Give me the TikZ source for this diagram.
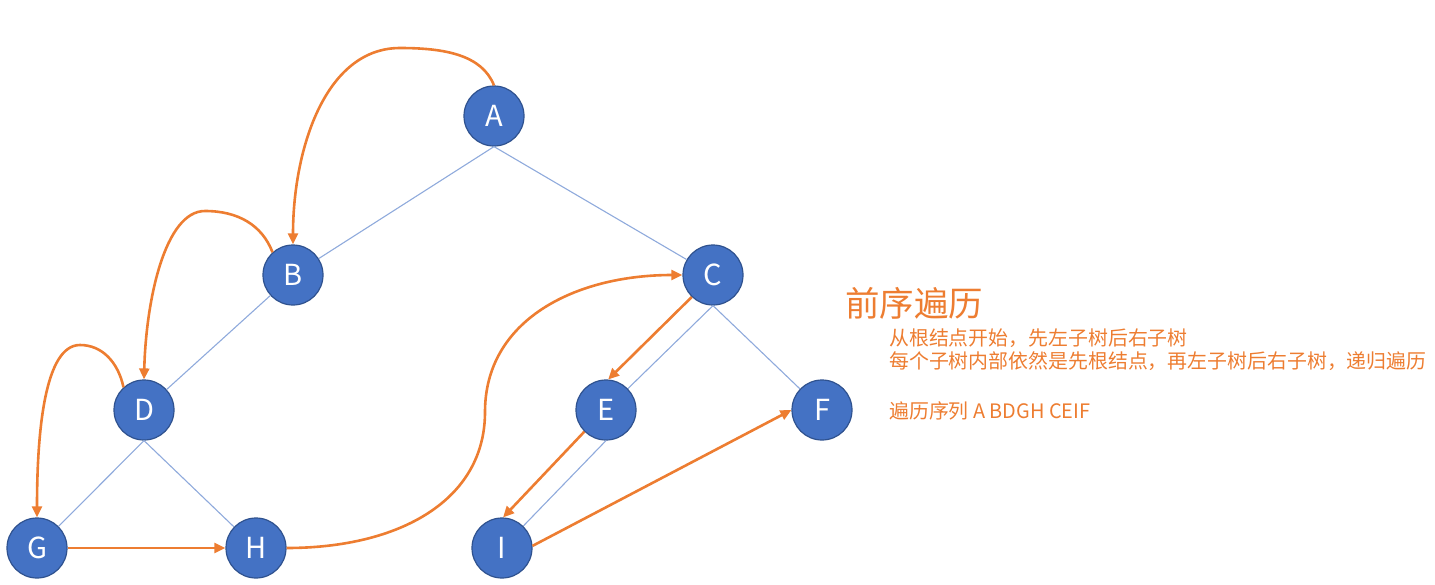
\documentclass[tikz,border=0pt]{standalone}
\usepackage{fontspec}
\setmainfont{Noto Sans CJK SC}
\usetikzlibrary{arrows.meta}
\definecolor{nodeblue}{HTML}{4472C4}
\definecolor{nodeedge}{HTML}{2F528F}
\definecolor{treeline}{HTML}{8FAADC}
\definecolor{trav}{HTML}{ED7D31}
\tikzset{
  tnode/.style={circle, fill=nodeblue, draw=nodeedge, line width=1.2pt, minimum size=60pt, inner sep=0pt, text=white, font=\fontsize{29}{29}\selectfont},
  tedge/.style={draw=treeline, line width=1.1pt},
  tarrow/.style={draw=trav, line width=2.6pt, -{Triangle[length=11pt,width=10pt]}},
  ttext/.style={text=trav, anchor=west, inner sep=0pt, font=\fontsize{19.9}{19.9}\selectfont}
}
\begin{document}
\begin{tikzpicture}[x=1pt,y=-1pt]
\useasboundingbox (0,0) rectangle (1435,584);
\node[tnode] (A) at (494,116) {A};
\node[tnode] (B) at (293,275) {B};
\node[tnode] (C) at (713,275) {C};
\node[tnode] (D) at (144,410) {D};
\node[tnode] (E) at (606,410) {E};
\node[tnode] (F) at (822,410) {F};
\node[tnode] (G) at (37,548) {G};
\node[tnode] (H) at (256,548) {H};
\node[tnode] (I) at (502,548) {I};
% tree edges
\draw[tedge] (A.south) -- (B);
\draw[tedge] (A.south) -- (C);
\draw[tedge] (B) -- (D);
\draw[tedge] (D.south) -- (G);
\draw[tedge] (D.south) -- (H);
\draw[tedge] (C.south) -- (E);
\draw[tedge] (C.south) -- (F);
\draw[tedge] (E.south) -- (I);
% traversal arrows
\draw[tarrow] (A.north) .. controls (482,55) and (445,48) .. (400,48) .. controls (325,48) and (293,150) .. (B.north);
\draw[tarrow] (B.132) .. controls (262,225) and (238,211) .. (205,211) .. controls (165,211) and (146,300) .. (D.north);
\draw[tarrow] (D.132) .. controls (118,362) and (102,345) .. (80,345) .. controls (45,345) and (37,430) .. (G.north);
\draw[tarrow] (G.east) -- (H.west);
\draw[tarrow] (H.east) .. controls (400,548) and (485,500) .. (485,412) .. controls (485,320) and (575,275) .. (C.west);
\draw[tarrow] (C.226) -- (E.86);
\draw[tarrow] (E.225) -- (I.88);
\draw[tarrow] (I.4) -- (F.west);
% text
\node[ttext, font=\fontsize{34.5}{34.5}\selectfont] (title) at (845,303) {前序遍历};
\node[ttext] (l1) at (889,338) {从根结点开始，先左子树后右子树};
\node[ttext] (l2) at (889,361) {每个子树内部依然是先根结点，再左子树后右子树，递归遍历};
\node[ttext] (l3) at (889,411) {遍历序列 A BDGH CEIF};
\end{tikzpicture}
\end{document}
